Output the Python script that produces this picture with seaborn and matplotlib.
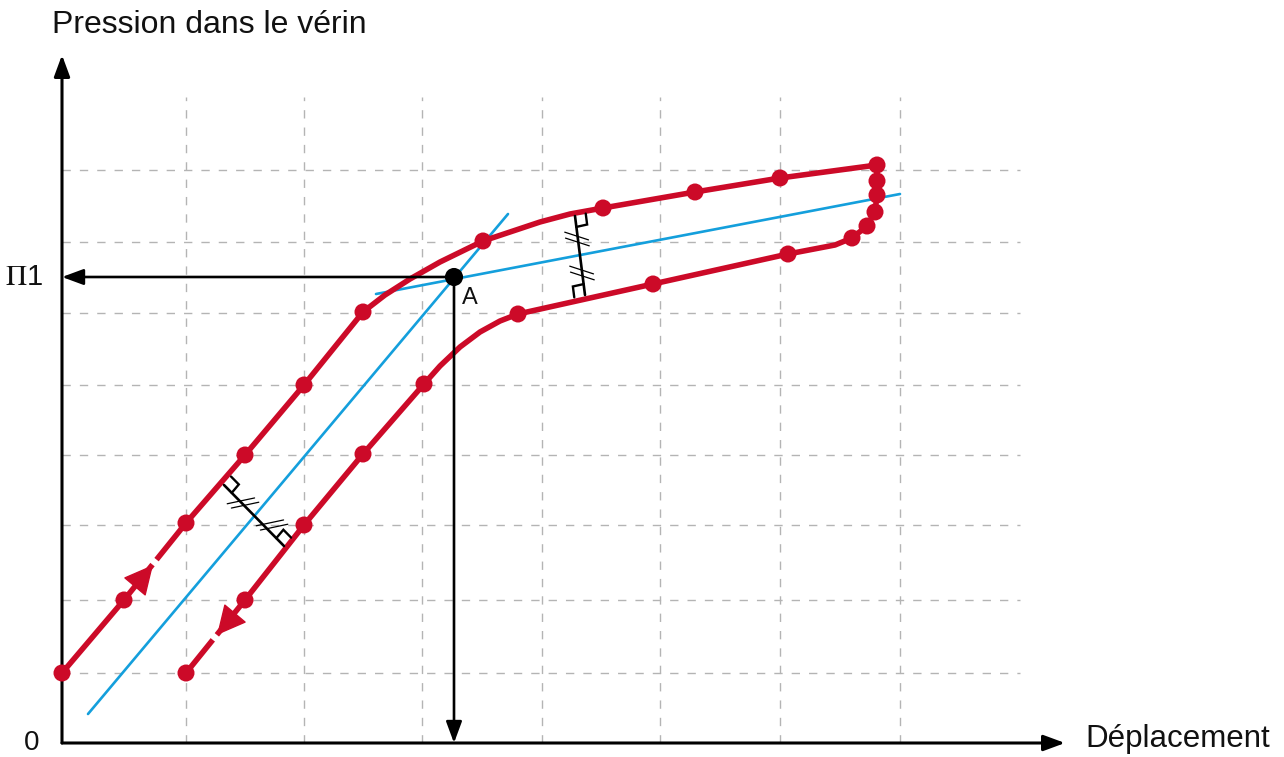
import numpy as np
import pandas as pd
import seaborn as sns
import matplotlib.pyplot as plt

# values read off the picture, in pixels measured from the origin of the axes
# loading branch (dots)
up_x = [0, 62, 124, 183, 242, 301, 421, 541, 633, 718, 815]
up_y = [70, 143, 220, 288, 358, 431, 502, 535, 551, 565, 578]
# turn at the end of the stroke (dots)
turn_x = [815, 815, 813, 805, 790]
turn_y = [562, 548, 531, 517, 505]
# unloading branch (dots)
down_x = [726, 591, 456, 362, 301, 242, 183, 124]
down_y = [489, 459, 429, 359, 289, 218, 143, 70]

# whole red path, dots plus the bends between them
path_x = [0, 62, 124, 183, 242, 301, 323, 348, 378, 421, 448, 478, 508, 541, 633, 718, 815,
          815, 815, 813, 805, 790, 773, 726, 591, 456, 438, 418, 398, 378, 362, 301, 242, 183, 124]
path_y = [70, 143, 220, 288, 358, 431, 448, 464, 481, 502, 511, 521, 529, 535, 551, 565, 578,
          562, 548, 531, 517, 505, 498, 489, 459, 429, 422, 411, 396, 377, 359, 289, 218, 143, 70]

# blue lines (elastic slope and plastic slope)
steep_x = [26, 446]
steep_y = [29, 529]
flat_x = [314, 838]
flat_y = [449, 549]

# point A
a_x, a_y = 392, 466

grid_x = [124, 242, 360, 480, 598, 718, 838]
grid_y = [70, 143, 218, 288, 358, 430, 501, 573]

red = "#cc0a28"
blue = "#149fdc"

sns.set_theme(style="white")
plt.rcParams['font.family'] = ['Liberation Sans', 'DejaVu Sans']
plt.rcParams['mathtext.fontset'] = 'stix'

fig = plt.figure(figsize=(12.84, 7.57), dpi=100)
ax = fig.add_axes([0, 0, 1, 1])
ax.set_xlim(-62, 1222)
ax.set_ylim(-14, 743)
ax.axis("off")

# dashed grid
for gx in grid_x:
    ax.plot([gx, gx], [0, 646], color="#b4b4b4", lw=1.0, ls=(0, (6, 6.5)), zorder=1)
for gy in grid_y:
    ax.plot([0, 958], [gy, gy], color="#b4b4b4", lw=1.0, ls=(0, (6, 6.5)), zorder=1)

# axes with arrows
ax_arrow = dict(arrowstyle="-|>,head_length=0.65,head_width=0.24", lw=2.2, color="black",
                mutation_scale=20, shrinkA=0, shrinkB=0)
ax.annotate("", xy=(1003, 0), xytext=(0, 0), arrowprops=ax_arrow, zorder=3)
ax.annotate("", xy=(0, 688), xytext=(0, 0), arrowprops=ax_arrow, zorder=3)

# blue lines
sns.lineplot(x=steep_x, y=steep_y, sort=False, estimator=None, color=blue, lw=1.9, ax=ax, zorder=2)
sns.lineplot(x=flat_x, y=flat_y, sort=False, estimator=None, color=blue, lw=1.9, ax=ax, zorder=2)

# red cycle
sns.lineplot(x=path_x, y=path_y, sort=False, estimator=None, color=red, lw=4.0, ax=ax, zorder=3)
dots = pd.DataFrame({"x": up_x + turn_x + down_x, "y": up_y + turn_y + down_y})
sns.scatterplot(data=dots, x="x", y="y", s=150, color=red, edgecolor="none", ax=ax, zorder=5)

# direction arrows on the red path (with the small gap after the tip)
gap_up = ([91, 95], [178, 183])
gap_down = ([155, 151], [108, 103])
for gx_, gy_ in (gap_up, gap_down):
    ax.plot(gx_, gy_, color="white", lw=6, solid_capstyle="butt", zorder=4)
red_arrow = dict(arrowstyle="-|>,head_length=1.0,head_width=0.5", lw=1, color=red,
                 mutation_scale=19, shrinkA=0, shrinkB=0)
ax.annotate("", xy=(91, 178), xytext=(70, 153), arrowprops=red_arrow, zorder=5)
ax.annotate("", xy=(155, 108), xytext=(176, 133), arrowprops=red_arrow, zorder=5)

# projection of A on both axes
a_arrow = dict(arrowstyle="-|>,head_length=0.65,head_width=0.24", lw=1.9, color="black",
               mutation_scale=20, shrinkA=0, shrinkB=0)
ax.annotate("", xy=(0, a_y), xytext=(a_x, a_y), arrowprops=a_arrow, zorder=3)
ax.annotate("", xy=(a_x, 0), xytext=(a_x, a_y), arrowprops=a_arrow, zorder=3)
sns.scatterplot(x=[a_x], y=[a_y], s=170, color="black", edgecolor="none", ax=ax, zorder=6)


def unit(v):
    v = np.asarray(v, float)
    return v / np.hypot(*v)


def right_angle(p, u, v, s=11):
    p = np.asarray(p, float)
    u, v = unit(u), unit(v)
    pts = np.array([p + s * u, p + s * u + s * v, p + s * v])
    ax.plot(pts[:, 0], pts[:, 1], color="black", lw=1.7, zorder=4, solid_joinstyle="miter")


def slashes(c, seg, ang, length=28, gap=6):
    c = np.asarray(c, float)
    t = unit(seg)
    d = np.array([np.cos(np.radians(ang)), np.sin(np.radians(ang))])
    for k in (-0.5, 0.5):
        m = c + k * gap * t
        ax.plot([m[0] - d[0] * length / 2, m[0] + d[0] * length / 2],
                [m[1] - d[1] * length / 2, m[1] + d[1] * length / 2],
                color="black", lw=0.9, zorder=4)


# equal distance marks between the two branches
perp1 = ([162, 222], [258, 197])
perp2 = ([513, 523], [527, 448])
for px, py in (perp1, perp2):
    ax.plot(px, py, color="black", lw=1.9, zorder=4)

right_angle((162, 258), (60, -61), (59, 70))
right_angle((222, 197), (-60, 61), (59, 70))
right_angle((513, 527), (10, -79), (63, 14))
right_angle((523, 448), (-10, 79), (-63, -14))
slashes((181, 240), (60, -61), 12)
slashes((210, 218), (60, -61), 12)
slashes((515, 504), (10, -79), -18, length=25)
slashes((520, 470), (10, -79), -18, length=25)

# texts
ax.text(-10, 710, "Pression dans le vérin", fontsize=23, ha="left", va="baseline", color="#111111")
ax.text(1023, -4, "Déplacement", fontsize=22.5, ha="left", va="baseline", color="#111111")
ax.text(-30, -7, "0", fontsize=20, ha="center", va="baseline", color="#111111")
ax.text(-19, a_y, r"$\mathrm{\Pi}$1", fontsize=21, ha="right", va="center", color="#111111")
ax.text(400, 445, "A", fontsize=17, ha="left", va="center", color="#111111")

fig.savefig("out.png", dpi=100)
